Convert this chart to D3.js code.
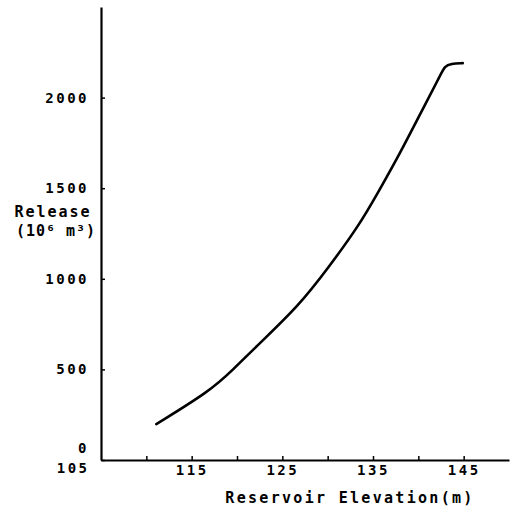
<!DOCTYPE html>
<html>
<head>
<meta charset="utf-8">
<script src="https://cdn.jsdelivr.net/npm/d3@7"></script>
<style>
  body { margin: 0; background: #fff; }
  .tick text { font-family: "DejaVu Sans Mono", monospace; }
</style>
</head>
<body>
<div id="chart"></div>
<script>
// Reservoir elevation (m) and release (10^6 m^3)
const elevation = [111.1, 117.0, 119.5, 122.4, 126.8, 130.1, 133.4, 135.6, 138.1, 140.0, 142.5, 142.9, 143.6, 144.9];
const release   = [198,   380,   495,   640,   850,   1063,  1290,  1480,  1705,  1890,  2130,  2172,  2188,  2190];

const xTicks = [105, 110, 115, 120, 125, 130, 135, 140, 145];
const xLabels = { 105: "105", 115: "115", 125: "125", 135: "135", 145: "145" };
const yTicks = [0, 500, 1000, 1500, 2000];

// Set dimensions and margins
const margin = { top: 7, right: 8, bottom: 54, left: 101 };
const width = 517 - margin.left - margin.right;
const height = 514 - margin.top - margin.bottom;

const svg = d3.select("#chart")
    .append("svg")
    .attr("width", 517)
    .attr("height", 514)
    .append("g")
    .attr("transform", `translate(${margin.left},${margin.top})`);

// Scales
const x = d3.scaleLinear().domain([105, 150]).range([0, width]);
const y = d3.scaleLinear().domain([0, 2500]).range([height, 0]);

// x axis, ticks point inward
const xAxis = svg.append("g")
    .attr("transform", `translate(0,${height})`)
    .call(d3.axisBottom(x)
        .tickValues(xTicks)
        .tickSizeInner(-4)
        .tickSizeOuter(0)
        .tickPadding(5)
        .tickFormat(d => xLabels[d] || ""));

// y axis
const yAxis = svg.append("g")
    .call(d3.axisLeft(y)
        .tickValues(yTicks)
        .tickSizeInner(-4)
        .tickSizeOuter(0)
        .tickPadding(12)
        .tickFormat(d => d));

[xAxis, yAxis].forEach(g => {
    g.select(".domain").attr("stroke", "#000").attr("stroke-width", 2.2);
    g.selectAll(".tick line").attr("stroke", "#000").attr("stroke-width", 1.5);
    g.selectAll(".tick text")
        .attr("fill", "#000")
        .style("font-size", "14px")
        .style("font-weight", "bold")
        .style("letter-spacing", "2.5px");
});

// 0 sits above the x axis, 105 sits left of the origin
yAxis.selectAll(".tick").filter(d => d === 0).select("text").attr("dy", "-0.55em");
xAxis.selectAll(".tick").filter(d => d === 105).select("text")
    .attr("text-anchor", "end")
    .attr("x", -12)
    .attr("dy", "0.55em");
xAxis.selectAll(".tick").filter(d => d === 105).select("line").remove();

// The curve
const line = d3.line()
    .x((d, i) => x(elevation[i]))
    .y(d => y(d))
    .curve(d3.curveBasis);

svg.append("path")
    .datum(release)
    .attr("fill", "none")
    .attr("stroke", "#000")
    .attr("stroke-width", 2.6)
    .attr("stroke-linecap", "round")
    .attr("d", line);

// Axis titles
svg.append("text")
    .attr("x", 249)
    .attr("y", 496)
    .attr("text-anchor", "middle")
    .style("font-family", "DejaVu Sans Mono, monospace")
    .style("font-weight", "bold")
    .style("font-size", "15px")
    .style("letter-spacing", "2.3px")
    .text("Reservoir Elevation(m)");

svg.append("text")
    .attr("x", -48)
    .attr("y", 210)
    .attr("text-anchor", "middle")
    .style("font-family", "DejaVu Sans Mono, monospace")
    .style("font-weight", "bold")
    .style("font-size", "15px")
    .style("letter-spacing", "2px")
    .text("Release");

svg.append("text")
    .attr("x", -45)
    .attr("y", 229)
    .attr("text-anchor", "middle")
    .style("font-family", "DejaVu Sans Mono, monospace")
    .style("font-weight", "bold")
    .style("font-size", "15px")
    .style("letter-spacing", "1px")
    .text("(10⁶ m³)");
</script>
</body>
</html>
